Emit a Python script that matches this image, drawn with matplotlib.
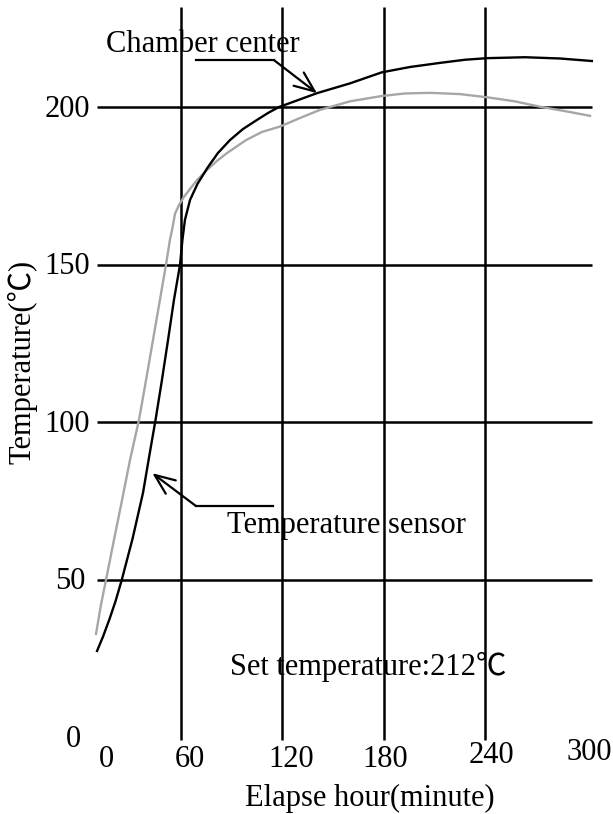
import matplotlib

matplotlib.use('Agg')
import matplotlib.pyplot as plt

plt.rcParams['font.family'] = ['Liberation Serif', 'Noto Sans CJK JP']

# Chamber center (black) - minutes / degC
center_min = [10.5, 14.0, 18.0, 21.5, 25.1, 31.5, 37.7, 41.5, 45.1, 48.9, 52.5, 56.0, 59.6,
              61.0, 62.5, 65.5, 69.9, 75.8, 82.0, 89.1, 96.8, 105.1, 111.6, 118.1,
              129.4, 140.6, 160.1, 178.9, 195.6, 213.3, 228.1, 241.1, 263.6, 284.3, 303.2]
center_temp = [27.5, 32.0, 37.8, 43.4, 50.0, 63.1, 77.7, 89.7, 100.8, 113.5, 126.2, 138.9,
               150.1, 157.9, 164.3, 170.6, 175.7, 180.8, 185.5, 189.6, 193.1, 196.0, 198.2,
               200.1, 202.3, 204.5, 207.6, 211.1, 212.8, 214.1, 215.1, 215.6, 215.9, 215.5,
               214.7]

# Temperature sensor (gray)
sensor_min = [9.9, 12.8, 15.8, 20.5, 25.3, 30.0, 35.3, 39.5, 43.6, 47.7, 51.3, 53.6,
              55.1, 56.6, 59.0, 61.9, 65.5, 69.6, 75.5, 81.4, 87.4, 98.6, 108.1, 118.7,
              130.5, 142.4, 160.1, 178.9, 192.6, 207.4, 225.2, 241.1, 257.7, 272.5,
              287.3, 302.1]
sensor_temp = [32.9, 42.1, 50.0, 62.7, 75.4, 88.1, 100.8, 113.5, 126.2, 138.9, 150.1, 157.9,
               161.7, 166.2, 169.0, 171.6, 174.1, 176.9, 180.1, 183.0, 185.5, 189.6, 192.2,
               193.9, 196.6, 199.2, 201.9, 203.6, 204.4, 204.6, 204.2, 203.2, 201.9, 200.2,
               198.8, 197.3]

x_grid = [60, 120, 180, 240]
y_grid = [50, 100, 150, 200]
x_labels = ['0', '60', '120', '180', '240', '300']
y_labels = ['0', '50', '100', '150', '200']

fig = plt.figure(figsize=(6.13, 8.14), dpi=100)
ax = fig.add_axes([0, 0, 1, 1])
ax.set_xlim(-46.9, 315.7)
ax.set_ylim(-24.24, 234.06)
ax.axis('off')

# grid lines
for x in x_grid:
    ax.plot([x, x], [-0.8, 231.8], color='black', lw=1.8, solid_capstyle='butt')
for y in y_grid:
    ax.plot([10.3, 303], [y, y], color='black', lw=1.8, solid_capstyle='butt')

ax.plot(sensor_min, sensor_temp, color='#a6a6a6', lw=1.7)
ax.plot(center_min, center_temp, color='black', lw=1.7)

fs = 22
# tick labels (the picture has them slightly off the lines)
xl_pos = [15.8, 65.2, 125.6, 180.8, 243.5, 301.8]
xl_y = [-7.1, -7.1, -7.1, -6.8, -5.8, -4.6]
for lab, x, y in zip(x_labels, xl_pos, xl_y):
    ax.text(x, y, lab, fontsize=fs, ha='center', va='center')
yl_x = [1.0, 3.5, 6.3, 6.3, 6.3]
for lab, x in zip(y_labels, yl_x):
    ax.text(x, int(lab) - 0.6, lab, fontsize=fs, ha='right', va='center')

ax.text(172, -19.2, 'Elapse hour(minute)', fontsize=fs, ha='center', va='center')
ax.text(-33.9, 119.2, 'Temperature(℃)', fontsize=fs, ha='center', va='center',
        rotation=90)

ax.text(15.8, 217.6, 'Chamber center', fontsize=fs, ha='left', va='baseline')
ax.text(87.2, 64.9, 'Temperature sensor', fontsize=fs, ha='left', va='baseline')
ax.text(89.1, 19.9, 'Set temperature:212℃', fontsize=fs, ha='left', va='baseline')

# leader lines with open arrow heads
arrow = dict(arrowstyle='->,head_length=1.45,head_width=0.6', lw=1.6,
             color='black', mutation_scale=10, shrinkA=0, shrinkB=0)
ax.plot([69.1, 115.1], [215.0, 215.0], color='black', lw=1.6)
ax.annotate('', xy=(140.6, 204.5), xytext=(115.1, 215.0), arrowprops=arrow)
ax.plot([69.0, 114.8], [73.5, 73.5], color='black', lw=1.6)
ax.annotate('', xy=(43.2, 83.9), xytext=(69.0, 73.5), arrowprops=arrow)

plt.savefig('out.png', dpi=100)
